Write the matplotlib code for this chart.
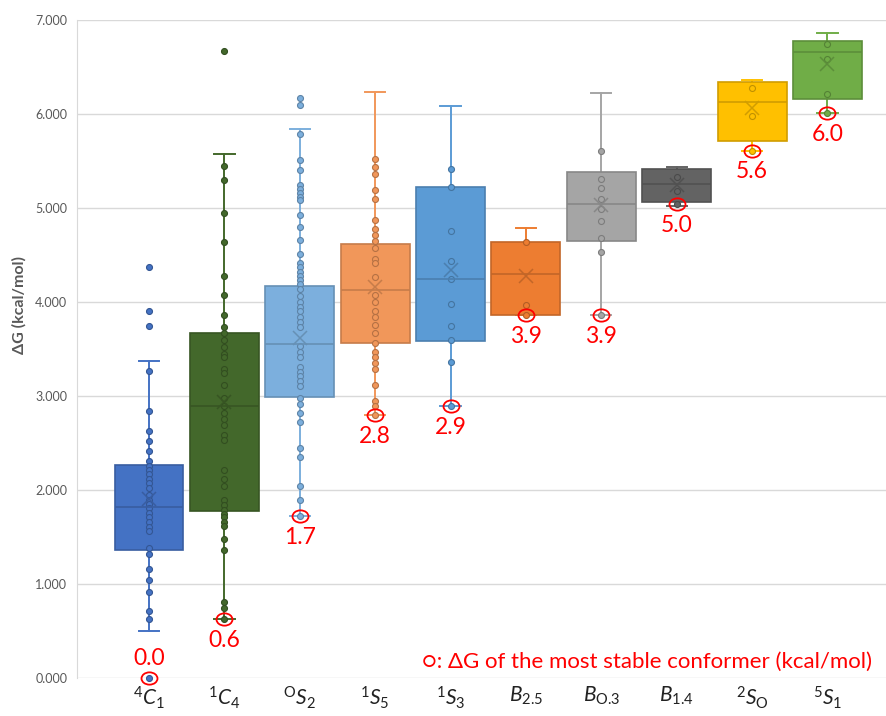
import matplotlib
matplotlib.use('Agg')
import matplotlib.pyplot as plt
import matplotlib.colors as mcolors
from matplotlib.path import Path
from matplotlib.transforms import Affine2D

plt.rcParams['font.family'] = ['Lato', 'DejaVu Sans']
plt.rcParams['mathtext.fontset'] = 'custom'
plt.rcParams['mathtext.rm'] = 'Lato'
plt.rcParams['mathtext.it'] = 'Lato:italic'
plt.rcParams['mathtext.bf'] = 'Lato:bold'

# conformer labels (x axis)
labels = [r'$^{4}C_{1}$', r'$^{1}C_{4}$', r'$^{\mathrm{O}}S_{2}$', r'$^{1}S_{5}$', r'$^{1}S_{3}$',
          r'$B_{2.5}$', r'$B_{\text{O.3}}$', r'$B_{1.4}$', r'$^{2}S_{\mathrm{O}}$', r'$^{5}S_{1}$']

# box statistics (kcal/mol)
q1 = [1.36, 1.78, 2.99, 3.56, 3.59, 3.86, 4.65, 5.06, 5.71, 6.16]
med = [1.82, 2.89, 3.55, 4.13, 4.25, 4.30, 5.04, 5.26, 6.13, 6.66]
q3 = [2.27, 3.67, 4.17, 4.62, 5.22, 4.64, 5.38, 5.41, 6.34, 6.78]
whislo = [0.50, 0.63, 1.72, 2.80, 2.89, 3.86, 3.86, 5.02, 5.61, 6.01]
whishi = [3.37, 5.57, 5.84, 6.23, 6.09, 4.79, 6.22, 5.44, 6.36, 6.86]
means = [1.90, 2.94, 3.62, 4.16, 4.34, 4.28, 5.03, 5.24, 6.06, 6.53]

# individual conformer energies
pts_4C1 = [4.37, 3.90, 3.75, 3.27, 2.84, 2.63, 2.52, 2.42, 2.31, 2.26, 2.21, 2.17, 2.12, 2.07,
           2.02, 1.95, 1.89, 1.85, 1.81, 1.76, 1.71, 1.66, 1.61, 1.56, 1.38, 1.32, 1.16, 1.04,
           0.91, 0.71, 0.63, 0.00]
pts_1C4 = [6.67, 5.45, 5.30, 4.95, 4.64, 4.28, 4.07, 3.86, 3.73, 3.67, 3.60, 3.52, 3.45, 3.42,
           3.29, 3.24, 3.12, 2.98, 2.89, 2.82, 2.76, 2.69, 2.59, 2.53, 2.21, 2.12, 2.04, 1.89,
           1.84, 1.79, 1.75, 1.71, 1.66, 1.62, 1.48, 1.36, 0.81, 0.74, 0.63]
pts_OS2 = [6.17, 6.10, 5.79, 5.51, 5.40, 5.24, 5.20, 5.16, 5.12, 5.08, 4.93, 4.80, 4.66, 4.51,
           4.41, 4.37, 4.32, 4.28, 4.23, 4.19, 4.14, 4.06, 4.00, 3.95, 3.90, 3.84, 3.79, 3.73,
           3.53, 3.47, 3.42, 3.31, 3.26, 3.21, 3.16, 3.11, 2.98, 2.91, 2.82, 2.72, 2.45, 2.35,
           2.04, 1.89, 1.72]
pts_1S5 = [5.52, 5.44, 5.36, 5.19, 5.10, 4.87, 4.78, 4.71, 4.65, 4.57, 4.46, 4.42, 4.27, 4.07,
           4.00, 3.90, 3.84, 3.76, 3.67, 3.56, 3.47, 3.41, 3.35, 3.29, 3.12, 2.95, 2.89, 2.80]
pts_1S3 = [5.41, 5.22, 4.76, 4.44, 4.25, 3.98, 3.74, 3.60, 3.36, 2.89]
pts_B25 = [4.64, 3.97, 3.86]
pts_BO3 = [5.61, 5.31, 5.21, 5.10, 4.99, 4.86, 4.68, 4.53, 3.86]
pts_B14 = [5.33, 5.18, 5.04]
pts_2SO = [6.28, 5.98, 5.61]
pts_5S1 = [6.75, 6.59, 6.21, 6.01]
points = [pts_4C1, pts_1C4, pts_OS2, pts_1S5, pts_1S3, pts_B25, pts_BO3, pts_B14, pts_2SO, pts_5S1]

# most stable conformer of each group
best = [0.00, 0.63, 1.72, 2.80, 2.89, 3.86, 3.86, 5.04, 5.61, 6.01]

colors = ['#4472C4', '#43682B', '#7CAFDD', '#F1975A', '#5B9BD5',
          '#ED7D31', '#A5A5A5', '#636363', '#FFC000', '#70AD47']


def darken(c, f=0.8):
    r, g, b = mcolors.to_rgb(c)
    return (r * f, g * f, b * f)


fig = plt.figure(figsize=(8.87, 7.16), dpi=100)
ax = fig.add_axes([77 / 887, 38 / 716, 810 / 887, 658 / 716])

stats = []
for i in range(len(labels)):
    stats.append(dict(label=labels[i], q1=q1[i], med=med[i], q3=q3[i],
                      whislo=whislo[i], whishi=whishi[i], mean=means[i], fliers=[]))

pos = list(range(len(labels)))
bp = ax.bxp(stats, positions=pos, widths=0.915, capwidths=0.27, patch_artist=True,
            showmeans=True, showfliers=False, manage_ticks=False)

for i, c in enumerate(colors):
    dk = darken(c, 0.82)
    bp['boxes'][i].set(facecolor=c, edgecolor=dk, linewidth=1.2, zorder=2)
    bp['medians'][i].set(color=dk, linewidth=1.2, zorder=5)
    for w in bp['whiskers'][2 * i:2 * i + 2]:
        w.set(color=c, linewidth=1.4, zorder=1.5)
    for cp in bp['caps'][2 * i:2 * i + 2]:
        cp.set(color=c, linewidth=1.4, zorder=1.5)
    bp['means'][i].set(marker='x', markersize=10, markeredgecolor=dk, markeredgewidth=1.1, zorder=5)
    ax.plot([i] * len(points[i]), points[i], 'o', ms=4.3, mfc=c, mec=darken(c, 0.75),
            mew=0.8, zorder=4, clip_on=False)

# red (slightly flattened) circles + value labels
ell = Path.unit_circle().transformed(Affine2D().scale(1.3, 1.0))
for i, v in enumerate(best):
    ax.plot(i, v, marker=ell, ms=11.5, mfc='none', mec='red', mew=1.3, zorder=7, clip_on=False)
    dy = 9.5 if i == 0 else -20
    ax.annotate(f'{v:.1f}', (i, v), xytext=(0, dy), textcoords='offset points',
                ha='center', va='baseline', color='red', fontsize=16.5, zorder=8)

ax.text(0.981, 0.015, '\u25cb: \u0394G of the most stable conformer (kcal/mol)',
        transform=ax.transAxes, ha='right', va='baseline', color='red', fontsize=16)

ax.set_xlim(-0.955, 9.79)
ax.set_ylim(0, 7)
ax.set_yticks(range(8))
ax.set_yticklabels([f'{t:.3f}' for t in range(8)])
ax.set_xticks(pos)
ax.set_xticklabels(labels, fontsize=15, color='#222222')
ax.tick_params(axis='y', length=0, pad=7, labelsize=9, labelcolor='#595959')
ax.tick_params(axis='x', length=0, pad=5)

ax.yaxis.grid(True, color='#D9D9D9', linewidth=1)
ax.set_axisbelow(True)
for s in ['top', 'right', 'bottom']:
    ax.spines[s].set_visible(False)
ax.spines['left'].set_color('#D9D9D9')

ax.set_ylabel('\u0394G (kcal/mol)', fontsize=11.5, fontweight='bold', color='#595959')
ax.yaxis.set_label_coords((27 - 77) / 810, (678 - 305) / 658)

fig.savefig('out.png', dpi=100)
